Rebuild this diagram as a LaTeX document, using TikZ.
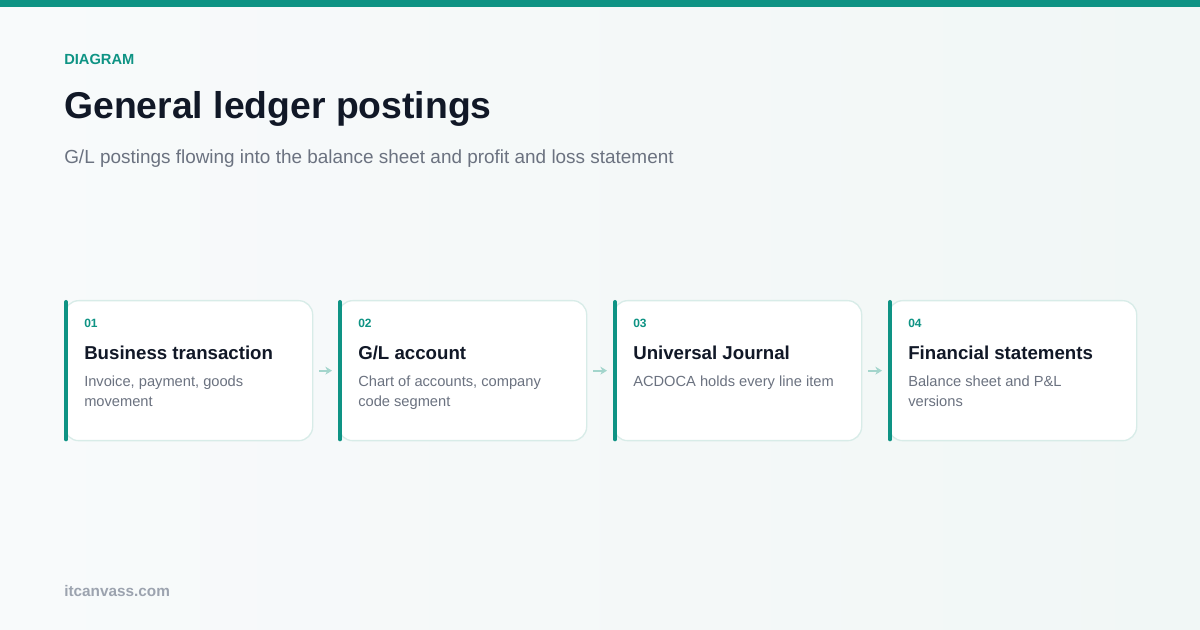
\documentclass[tikz,border=0pt]{standalone}
\usepackage{fontspec}
\setmainfont{Liberation Sans}
\usetikzlibrary{arrows.meta,positioning}

\definecolor{brandteal}{HTML}{0E9384}
\definecolor{inkdark}{HTML}{111827}
\definecolor{inkgray}{HTML}{6B7280}
\definecolor{footgray}{HTML}{9CA3AF}
\definecolor{cardline}{HTML}{D8ECE8}
\definecolor{flowline}{HTML}{A3D5CC}
\definecolor{bgA}{HTML}{F8FAFB}
\definecolor{bgB}{HTML}{F1F7F6}

% two stacked lines, baseline on the first one
\newcommand\desclines[2]{\vtop{\hbox{#1}\hbox{#2}}}

\tikzset{
  card/.style={draw=cardline, line width=1pt, fill=white, rounded corners=10.5pt,
    minimum width=186pt, minimum height=105pt, anchor=north west, inner sep=0pt},
  stepnum/.style={anchor=base west, inner sep=0pt, text=brandteal,
    font=\bfseries\fontsize{9}{11}\selectfont},
  stephead/.style={anchor=base west, inner sep=0pt, text=inkdark,
    font=\bfseries\fontsize{14}{16}\selectfont},
  stepdesc/.style={anchor=base west, inner sep=0pt, text=inkgray,
    font=\fontsize{11}{15}\selectfont},
  flow/.style={draw=flowline, line width=1.4pt, -{Stealth[length=5pt,width=6pt]}},
}

\begin{document}
\begin{tikzpicture}[x=0.75pt,y=-0.75pt]
\useasboundingbox (0,0) rectangle (1200,630);
\shade[left color=bgA, right color=bgB] (0,0) rectangle (1200,630);
\fill[brandteal] (0,0) rectangle (1200,7);

% header
\node (kicker) [anchor=base west, inner sep=0pt, text=brandteal,
  font=\bfseries\fontsize{11}{12}\selectfont] at (64,65) {DIAGRAM};
\node (title) [anchor=base west, inner sep=0pt, text=inkdark,
  font=\bfseries\fontsize{28}{32}\selectfont] at (64,119) {General ledger postings};
\node (subtitle) [anchor=base west, inner sep=0pt, text=inkgray,
  font=\fontsize{14.2}{17}\selectfont] at (64,164)
  {G/L postings flowing into the balance sheet and profit and loss statement};

% cards
\foreach \i/\x/\num/\head/\desc in {
  1/64/01/{Business transaction}/{\desclines{Invoice, payment, goods}{movement}},
  2/338/02/{G/L account}/{\desclines{Chart of accounts, company}{code segment}},
  3/613/03/{Universal Journal}/{ACDOCA holds every line item},
  4/888/04/{Financial statements}/{\desclines{Balance sheet and P\&L}{versions}}}
{
  \node[card] (c\i) at (\x,300) {};
  \draw[brandteal, line width=3pt, line cap=round]
    ([xshift=1.5pt,yshift=-1.5pt]c\i.north west) -- ([xshift=1.5pt,yshift=1.5pt]c\i.south west);
  \node[stepnum] (n\i) at ([xshift=15pt,yshift=-21pt]c\i.north west) {\num};
  \node[stephead] (h\i) at ([xshift=15pt,yshift=-45pt]c\i.north west) {\head};
  \node[stepdesc] (d\i) at ([xshift=15pt,yshift=-65.25pt]c\i.north west) {\desc};
}

% connectors
\foreach \a/\b in {1/2,2/3,3/4}
  \draw[flow] ([xshift=4.5pt]c\a.east) -- ([xshift=-4.5pt]c\b.west);

% footer
\node (site) [anchor=base west, inner sep=0pt, text=footgray,
  font=\bfseries\fontsize{11.5}{14}\selectfont] at (64,597) {itcanvass.com};
\end{tikzpicture}
\end{document}
